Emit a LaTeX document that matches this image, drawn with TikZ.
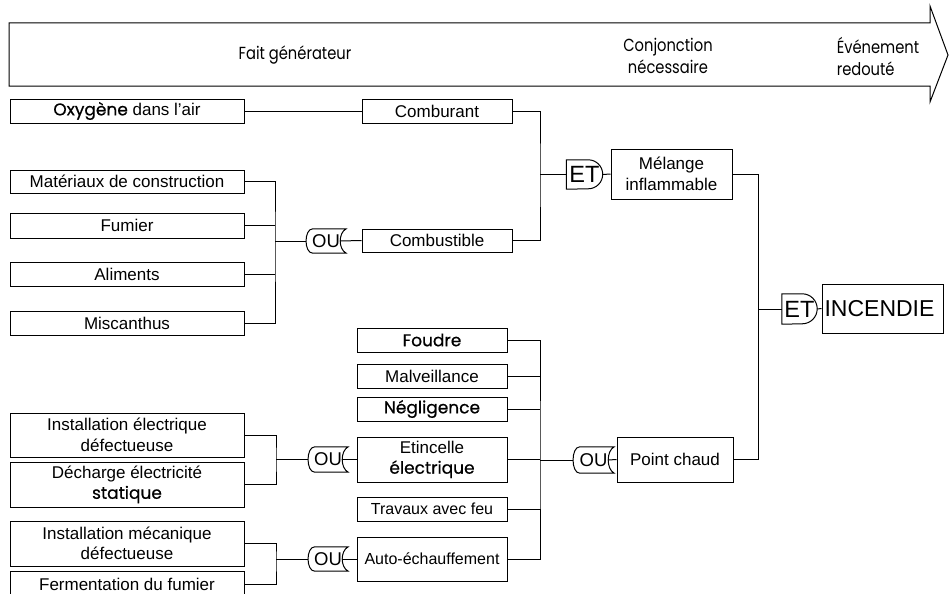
\documentclass[tikz,border=0pt]{standalone}
\usepackage{fontspec}
\setmainfont{Liberation Sans}
\newfontfamily\futura[FakeBold=0.6]{Poppins}
\newfontfamily\futuracond[FakeStretch=0.84]{Poppins}
\usetikzlibrary{calc}
\begin{document}
\begin{tikzpicture}[x=1pt,y=-1pt,
  box/.style={draw, line width=1pt, inner sep=0pt, align=center, font=\fontsize{17}{20.5}\selectfont},
  gate/.style={inner sep=0pt, font=\fontsize{18.5}{18.5}\selectfont},
  andgate/.style={inner sep=0pt, font=\fontsize{23.5}{23.5}\selectfont},
  wire/.style={line width=1pt},
  lbl/.style={font=\futuracond\fontsize{17.5}{22}\selectfont, align=center, inner sep=0pt}]
\clip (0,0) rectangle (950,594);
\fill[white] (0,0) rectangle (950,594);

% top arrow
\draw[line width=1pt, line join=miter] (9,23) -- (930,23) -- (930,6) -- (948,55) -- (930,102) -- (930,86) -- (9,86) -- cycle;
\node[lbl] (fg) at (295,55) {Fait générateur};
\node[lbl] (cn) at (668,56) {Conjonction\\nécessaire};
\node[lbl, align=left] (er) at (878,56) {Événement\\redouté};

% boxes
\node[box, minimum width=234pt, minimum height=24pt] (oxy) at (127,111) {{\futura Oxygène} dans l'air};
\node[box, minimum width=150pt, minimum height=24pt] (comb) at (437,111) {Comburant};
\node[box, minimum width=234pt, minimum height=23pt] (mat) at (127,181.5) {Matériaux de construction};
\node[box, minimum width=234pt, minimum height=25pt] (fum) at (127,225.5) {Fumier};
\node[box, minimum width=234pt, minimum height=24pt] (ali) at (127,274) {Aliments};
\node[box, minimum width=234pt, minimum height=24pt] (mis) at (127,323) {Miscanthus};
\node[box, minimum width=150pt, minimum height=23pt] (cbs) at (437,240.5) {Combustible};
\node[box, minimum width=121pt, minimum height=50pt] (mel) at (671.5,174) {Mélange\\inflammable};
\node[box, minimum width=121pt, minimum height=49pt, font=\fontsize{23}{24}\selectfont] (inc) at (882.5,308.5) {INCENDIE\hspace{6pt}};
\node[box, minimum width=150pt, minimum height=24pt] (fou) at (432,340) {{\futura Foudre}};
\node[box, minimum width=150pt, minimum height=24pt] (mal) at (432,376) {Malveillance};
\node[box, minimum width=150pt, minimum height=24pt] (neg) at (432,409) {{\futura Négligence}};
\node[box, minimum width=150pt, minimum height=45pt] (eti) at (432,459.5) {Etincelle\\{\futura électrique}};
\node[box, minimum width=150pt, minimum height=24pt, font=\fontsize{16}{20}\selectfont] (tra) at (432,509) {Travaux avec feu};
\node[box, minimum width=150pt, minimum height=44pt, font=\fontsize{16}{20}\selectfont] (aut) at (432,559) {Auto-échauffement};
\node[box, minimum width=116pt, minimum height=45pt] (pc) at (675,459.5) {Point chaud};
\node[box, minimum width=234pt, minimum height=44pt] (ie) at (127,435) {Installation électrique\\défectueuse};
\node[box, minimum width=234pt, minimum height=45pt] (dec) at (127,484.5) {Décharge électricité\\{\futura statique}};
\node[box, minimum width=234pt, minimum height=45pt] (im) at (127,543.5) {Installation mécanique\\défectueuse};
\node[box, minimum width=234pt, minimum height=27pt] (fer) at (127,584.5) {Fermentation du fumier};

% gates
\node[gate, minimum width=40pt, minimum height=24pt] (ou1) at (326,241) {OU};
\node[gate, minimum width=40pt, minimum height=25pt] (ou2) at (328,459.5) {OU};
\node[gate, minimum width=41pt, minimum height=26pt] (ou3) at (593.5,460) {OU};
\node[gate, minimum width=40pt, minimum height=24pt] (ou4) at (328,559) {OU};
\node[andgate, minimum width=36pt, minimum height=29pt] (et1) at (584.5,174.5) {ET\hspace{6pt}};
\node[andgate, minimum width=35pt, minimum height=30pt] (et2) at (799.5,309) {ET\hspace{6pt}};

\foreach \g in {ou1,ou2,ou3,ou4}{
  \draw[wire] let \p1=(\g.north west), \p2=(\g.south east) in
    (\x1+7pt,\y1) -- (\x2,\y1) .. controls (\x2-8pt,\y1-4pt) and (\x2-8pt,\y2+4pt) .. (\x2,\y2)
    -- (\x1+7pt,\y2) .. controls (\x1-2pt,\y2) and (\x1-2pt,\y1) .. (\x1+7pt,\y1) -- cycle;
}
\foreach \g/\r in {et1/14.5, et2/15}{
  \draw[wire] let \p1=(\g.north west), \p2=(\g.south east) in
    (\x1,\y1) -- (\x2-\r pt,\y1) arc[start angle=90, end angle=-90, radius=\r pt] -- (\x1,\y2) -- cycle;
}

% bus points
\coordinate (b1) at (540,174.5);
\coordinate (b2) at (758,309);
\coordinate (b3) at (540,460);
\coordinate (bl1) at (275,241);
\coordinate (bl2) at (276,459.5);
\coordinate (bl3) at (276,559);

% connectors
\draw[wire] (oxy.east) -- (comb.west);
\draw[wire] (comb.east) -| (b1) |- (cbs.east);
\draw[wire] (b1) -- (et1.west);
\draw[wire] (et1.east) -- (mel.west);
\draw[wire] (mel.east) -| (b2) |- (pc.east);
\draw[wire] (b2) -- (et2.west);
\draw[wire] (et2.east) -- (inc.west);

\draw[wire] (mat.east) -| (bl1) |- (mis.east);
\draw[wire] (fum.east) -- (fum.east -| bl1);
\draw[wire] (ali.east) -- (ali.east -| bl1);
\draw[wire] (bl1) -- (ou1.west);
\draw[wire] ([xshift=-6pt]ou1.east) -- (cbs.west);

\draw[wire] (fou.east) -| (b3) |- (aut.east);
\draw[wire] (mal.east) -- (mal.east -| b3);
\draw[wire] (neg.east) -- (neg.east -| b3);
\draw[wire] (eti.east) -- (eti.east -| b3);
\draw[wire] (tra.east) -- (tra.east -| b3);
\draw[wire] (b3) -- (ou3.west);
\draw[wire] ([xshift=-6pt]ou3.east) -- (pc.west);

\draw[wire] (ie.east) -| (bl2) |- (dec.east);
\draw[wire] (bl2) -- (ou2.west);
\draw[wire] ([xshift=-6pt]ou2.east) -- (eti.west);

\draw[wire] (im.east) -| (bl3) |- (fer.east);
\draw[wire] (bl3) -- (ou4.west);
\draw[wire] ([xshift=-6pt]ou4.east) -- (aut.west);
\end{tikzpicture}
\end{document}
